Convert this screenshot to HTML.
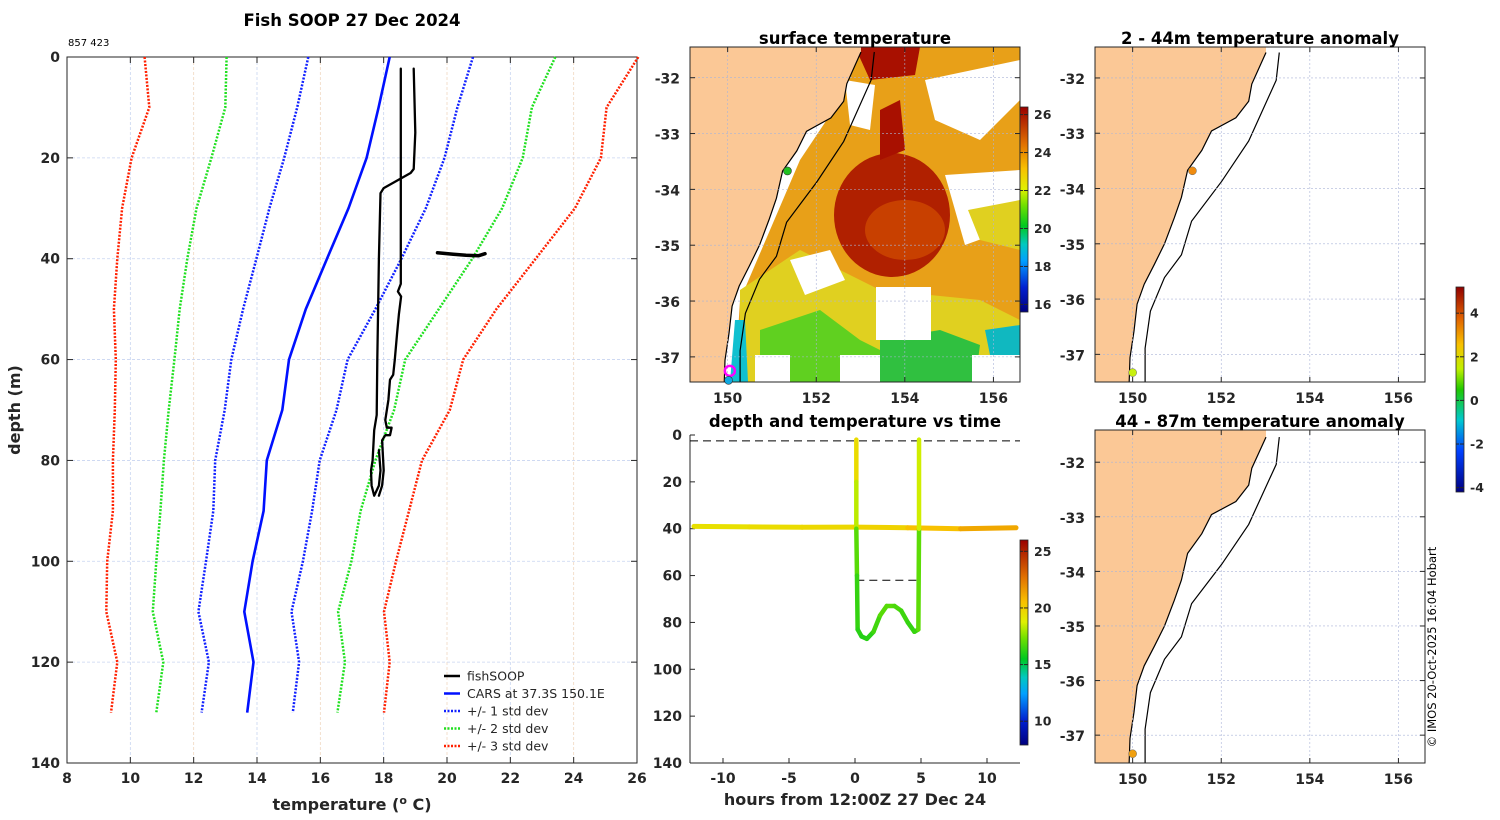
<!DOCTYPE html>
<html><head><meta charset="utf-8">
<style>
body{margin:0;background:#fff;width:1500px;height:820px;overflow:hidden}
svg{display:block;font-family:"DejaVu Sans","Liberation Sans",sans-serif}
.tk{font-size:14px;font-weight:bold;fill:#262626}
.tt{font-size:16.5px;font-weight:bold;fill:#000}
</style></head>
<body>
<svg id="fig" width="1500" height="820" viewBox="0 0 1500 820" xmlns="http://www.w3.org/2000/svg">
<defs>
<linearGradient id="tempGrad" x1="0" y1="1" x2="0" y2="0">
<stop offset="0" stop-color="#00007f"/><stop offset="0.12" stop-color="#0020d0"/><stop offset="0.25" stop-color="#00a0ff"/><stop offset="0.33" stop-color="#00c8c0"/><stop offset="0.42" stop-color="#00c820"/><stop offset="0.52" stop-color="#70e000"/><stop offset="0.6" stop-color="#e0f000"/><stop offset="0.7" stop-color="#f8c000"/><stop offset="0.82" stop-color="#e07000"/><stop offset="1" stop-color="#9a0000"/>
</linearGradient>
<linearGradient id="anomGrad" x1="0" y1="1" x2="0" y2="0">
<stop offset="0" stop-color="#00007f"/><stop offset="0.2" stop-color="#0040ff"/><stop offset="0.35" stop-color="#00c8d0"/><stop offset="0.5" stop-color="#20c800"/><stop offset="0.6" stop-color="#c0f000"/><stop offset="0.72" stop-color="#f8c000"/><stop offset="0.85" stop-color="#e06000"/><stop offset="1" stop-color="#900000"/>
</linearGradient>
<clipPath id="clipMap1"><rect x="690" y="47" width="330" height="335"/></clipPath>
<clipPath id="clipMap2"><rect x="1095" y="47" width="330" height="335"/></clipPath>
<clipPath id="clipMap3"><rect x="1095" y="430" width="330" height="333"/></clipPath>
</defs>
<g id="root"></g>
</svg>
<script>
// ---------- profile panel data ----------
const depths = [0,10,20,30,40,50,60,70,80,90,100,110,120,130];
const carsMean = [18.19,17.84,17.46,16.89,16.21,15.54,15.01,14.8,14.31,14.21,13.86,13.6,13.89,13.69];
const std1Lo = [15.62,15.27,14.86,14.39,13.98,13.56,13.19,12.98,12.68,12.62,12.39,12.15,12.48,12.25];
const std1Hi = [20.82,20.33,19.92,19.33,18.56,17.74,16.86,16.51,15.98,15.74,15.45,15.09,15.33,15.13];
const std2Lo = [13.04,13.0,12.56,12.09,11.8,11.56,11.39,11.21,11.06,10.95,10.82,10.71,11.04,10.82];
const std2Hi = [23.42,22.68,22.39,21.74,20.8,19.74,18.68,18.33,17.74,17.27,16.98,16.56,16.78,16.54];
const std3Lo = [10.45,10.6,10.04,9.74,9.59,9.48,9.54,9.51,9.45,9.45,9.27,9.24,9.59,9.39];
const std3Hi = [26.04,25.04,24.86,24.04,22.8,21.56,20.51,20.09,19.21,18.8,18.39,18.01,18.19,18.01];
const soopTempA = [18.54,18.54,18.45,18.55,18.48,18.42,18.35,18.3,18.2,18.15,18.05,18.1,18.25,18.2,18.05,17.95,18.0,17.95,17.85];
const soopDepthA = [2.3,45,46.5,47.5,51,55,60,63,64,68,72,73.5,73.5,75,75,76,82,85,87];
const soopTempB = [18.95,19.0,18.95,18.85,18.0,17.9,17.85,17.8,17.78,17.7,17.65,17.6,17.62,17.7,17.85,17.9,17.85];
const soopDepthB = [2.3,15,22.2,23,26,27,40,60,71,74,80,82,85,87,85,82,78];
const bolusTemp = [19.7,20.2,20.6,21.0,21.2];
const bolusDepth = [38.8,39.1,39.3,39.4,39.0];
const tempTicks = [8,10,12,14,16,18,20,22,24,26];
const depthTicks = [0,20,40,60,80,100,120,140];
// ---------- depth-time panel data ----------
const hoursTicks = [-10,-5,0,5,10];
const dtDepthTicks = [0,20,40,60,80,100,120,140];
const towHours = [-12.2,-8,-4,0,4,8,12.2];
const towDepth = [39,39.2,39.4,39.3,39.6,40,39.6];
const towTemp = [19.3,19.4,19.6,19.7,20.1,21.0,21.5];
const profHours = [0.1,0.1,0.1,0.15,0.2,0.5,0.9,1.4,1.9,2.4,3.0,3.5,4.0,4.5,4.8,4.85,4.85];
const profDepth = [2,20,40,60,83,86,87,84,77,73,73,75,80,84,83,40,2];
const profTemp = [19.8,19.3,17.3,16.5,16.2,16.1,16.0,16.3,16.8,17.0,16.8,16.6,16.4,16.3,16.5,17.5,19.6];
// ---------- maps ----------
const coastLon = [153.01,152.69,152.62,152.33,151.78,151.56,151.24,151.10,150.94,150.72,150.49,150.26,150.10,150.03,149.94,149.92];
const coastLat = [-31.54,-32.11,-32.42,-32.72,-32.96,-33.31,-33.67,-34.16,-34.53,-35.0,-35.37,-35.73,-36.09,-36.58,-37.06,-37.54];
const isoLon = [153.31,153.24,152.62,152.01,151.33,151.1,150.72,150.4,150.28,150.28];
const isoLat = [-31.54,-32.04,-33.14,-33.87,-34.59,-35.2,-35.61,-36.22,-36.89,-37.54];
const lonTicks = [150,152,154,156];
const latTicks = [-32,-33,-34,-35,-36,-37];
const sstTicks = [16,18,20,22,24,26];
const anomTicks = [-4,-2,0,2,4];

const NS='http://www.w3.org/2000/svg';
const root=document.getElementById('root');
function el(tag,attrs,parent,text){const e=document.createElementNS(NS,tag);for(const k in attrs)e.setAttribute(k,attrs[k]);if(text!==undefined)e.textContent=text;(parent||root).appendChild(e);return e;}
function lin(d0,d1,r0,r1){return v=>r0+(v-d0)/(d1-d0)*(r1-r0);}
function tempColor(t,lo,hi){
  const stops=[[0,[0,0,127]],[0.12,[0,32,208]],[0.25,[0,160,255]],[0.33,[0,200,192]],[0.42,[0,200,32]],[0.52,[112,224,0]],[0.6,[224,240,0]],[0.7,[248,192,0]],[0.82,[224,112,0]],[1,[154,0,0]]];
  let f=Math.max(0,Math.min(1,(t-lo)/(hi-lo)));
  for(let i=1;i<stops.length;i++){if(f<=stops[i][0]){const a=stops[i-1],b=stops[i];const u=(f-a[0])/(b[0]-a[0]);const c=a[1].map((v,j)=>Math.round(v+(b[1][j]-v)*u));return `rgb(${c})`;}}
  return 'rgb(154,0,0)';
}

// ===== Profile panel =====
const px=lin(8,26,67,637), py=lin(0,140,57,763);
const g1=el('g',{});


tempTicks.forEach((t,i)=>{const x=px(t);
  if(i>0&&i<tempTicks.length-1){const gl=el('line',{x1:x,y1:57,x2:x,y2:763,stroke:i%2?'#c8d4f0':'#f0d8c0','stroke-width':0.8,'stroke-dasharray':'3,2'},g1);}
  el('line',{x1:x,y1:763,x2:x,y2:757,stroke:'#262626'},g1);el('line',{x1:x,y1:57,x2:x,y2:63,stroke:'#262626'},g1);
  const tl=el('text',{x:x,y:783,'text-anchor':'middle',class:'tk'},g1,t);});
depthTicks.forEach((d,i)=>{const y=py(d);
  if(i>0&&i<depthTicks.length-1){const gl=el('line',{x1:67,y1:y,x2:637,y2:y,stroke:'#c8d4f0','stroke-width':0.8,'stroke-dasharray':'3,2'},g1);}
  el('line',{x1:67,y1:y,x2:73,y2:y,stroke:'#262626'},g1);el('line',{x1:637,y1:y,x2:631,y2:y,stroke:'#262626'},g1);
  const tl=el('text',{x:60,y:y+5,'text-anchor':'end',class:'tk'},g1,d);});
el('rect',{x:67,y:57,width:570,height:706,fill:'none',stroke:'#262626','stroke-width':1},g1);
function pathTD(ts,ds){return ts.map((t,i)=>(i?'L':'M')+px(t).toFixed(1)+','+py(ds[i]).toFixed(1)).join('');}
[[std3Lo,'#ff2000','std3-low'],[std3Hi,'#ff2000','std3-high'],[std2Lo,'#20e020','std2-low'],[std2Hi,'#20e020','std2-high'],[std1Lo,'#1020ff','std1-low'],[std1Hi,'#1020ff','std1-high']].forEach(s=>{
  const p=el('path',{d:pathTD(s[0],depths),fill:'none',stroke:s[1],'stroke-width':2.5,'stroke-dasharray':'2,1.5'},g1);
  });
const mp=el('path',{d:pathTD(carsMean,depths),fill:'none',stroke:'#0010ff','stroke-width':2.6},g1);

[[soopTempA,soopDepthA,2.3],[soopTempB,soopDepthB,2.3],[bolusTemp,bolusDepth,3.5]].forEach((s,i)=>{
  const p=el('path',{d:pathTD(s[0],s[1]),fill:'none',stroke:'#000','stroke-width':s[2],'stroke-linejoin':'round','stroke-linecap':'round'},g1);
  });
const lg=el('g',{},g1);
[['fishSOOP','#000',''],['CARS at 37.3S 150.1E','#0010ff',''],['+/- 1 std dev','#1020ff','2,1.5'],['+/- 2 std dev','#20e020','2,1.5'],['+/- 3 std dev','#ff2000','2,1.5']].forEach((e,i)=>{
  const y=676+i*17.5;const ge=el('g',{},lg);
  el('line',{x1:444,y1:y,x2:460,y2:y,stroke:e[1],'stroke-width':2.5,'stroke-dasharray':e[2]},ge);
  el('text',{x:467,y:y+4.5,'font-size':'12.5px',fill:'#262626'},ge,e[0]);});
let t=el('text',{x:352,y:26,'text-anchor':'middle',class:'tt'},null,'Fish SOOP 27 Dec 2024');
t=el('text',{x:68,y:46,'font-size':'10px',fill:'#000'},null,'857 423');
t=el('text',{x:352,y:810,'text-anchor':'middle','font-size':'16px','font-weight':'bold',fill:'#262626'},null,'');t.innerHTML='temperature (<tspan dy="-6" font-size="11px">o</tspan><tspan dy="6"> C)</tspan>';
t=el('text',{x:20,y:410,'text-anchor':'middle','font-size':'16px','font-weight':'bold',fill:'#262626',transform:'rotate(-90 20 410)'},null,'depth (m)');

// ===== Maps =====
function drawMap(name,x0,y0,w,h,lat0,lat1,clip){
  const lon0=149.15,lon1=156.6;
  const mx=lin(lon0,lon1,x0,x0+w), my=lin(lat0,lat1,y0,y0+h);
  const g=el('g',{});
  const inner=el('g',{'clip-path':`url(#${clip})`},g);
  return {g,inner,mx,my,lon0,lon1};
}
function coastPath(m){
  return coastLon.map((l,i)=>(i?'L':'M')+m.mx(l).toFixed(1)+','+m.my(coastLat[i]).toFixed(1)).join('');
}
function finishMap(m,x0,y0,w,h,title,titleX){
  const g=m.g,inner=m.inner;
  const top=y0-5,bot=y0+h+5;
  let d='M'+(x0-5)+','+top+' L'+m.mx(coastLon[0]).toFixed(1)+','+top+' '+coastPath(m).replace('M','L')+' L'+m.mx(coastLon[coastLon.length-1]).toFixed(1)+','+bot+' L'+(x0-5)+','+bot+'Z';
  const land=el('path',{d:d,fill:'#fbc896',stroke:'none'},inner);
  const cl=el('path',{d:coastPath(m),fill:'none',stroke:'#000','stroke-width':1.2},inner);
  const iso=el('path',{d:isoLon.map((l,i)=>(i?'L':'M')+m.mx(l).toFixed(1)+','+m.my(isoLat[i]).toFixed(1)).join(''),fill:'none',stroke:'#000','stroke-width':1.2},inner);
  lonTicks.forEach(l=>{const x=m.mx(l);el('line',{x1:x,y1:y0,x2:x,y2:y0+h,stroke:'#aab4d8','stroke-width':0.6,'stroke-dasharray':'2,2'},g);
    el('line',{x1:x,y1:y0+h,x2:x,y2:y0+h-5,stroke:'#262626'},g);el('line',{x1:x,y1:y0,x2:x,y2:y0+5,stroke:'#262626'},g);
    const tl=el('text',{x:x,y:y0+h+21,'text-anchor':'middle',class:'tk'},g,l);});
  latTicks.forEach(l=>{const y=m.my(l);el('line',{x1:x0,y1:y,x2:x0+w,y2:y,stroke:'#aab4d8','stroke-width':0.6,'stroke-dasharray':'2,2'},g);
    el('line',{x1:x0,y1:y,x2:x0+5,y2:y,stroke:'#262626'},g);el('line',{x1:x0+w,y1:y,x2:x0+w-5,y2:y,stroke:'#262626'},g);
    const tl=el('text',{x:x0-10,y:y+6,'text-anchor':'end',class:'tk','font-size':'15px'},g,l);});
  el('rect',{x:x0,y:y0,width:w,height:h,fill:'none',stroke:'#262626'},g);
  const tt=el('text',{x:titleX,y:y0-3,'text-anchor':'middle',class:'tt'},g,title);
}
const m1=drawMap('surface-temperature-map',690,47,330,335,-31.45,-37.45,'clipMap1');
(function(){const I=m1.inner;const blobs=[
 ['#ffffff','rect',690,47,330,335],
 ['#e8a018','path','M860,47 L1020,47 L1020,330 L960,320 L900,300 L850,300 L800,330 L760,382 L735,382 L740,300 L770,230 L800,160 L840,100Z'],
 ['#e0d020','path','M740,290 L800,250 L880,290 L980,300 L1020,320 L1020,382 L740,382Z'],
 ['#60d020','path','M760,330 L820,310 L860,340 L900,360 L1020,370 L1020,382 L760,382Z'],
 ['#30c040','path','M880,340 L940,330 L980,345 L975,382 L880,382Z'],
 ['#10c0d0','path','M735,320 L745,320 L748,382 L730,382Z'],
 ['#10b8c0','path','M985,330 L1020,325 L1020,360 L990,355Z'],
 ['#b02000','ellipse',892,215,58,62],
 ['#c84000','ellipse',905,230,40,30],
 ['#a81000','path','M855,47 L920,47 L915,75 L870,80Z'],
 ['#a81000','path','M880,110 L900,100 L905,150 L880,160Z'],
 ['#ffffff','rect',876,287,55,53],
 ['#ffffff','path','M925,80 L1020,60 L1020,100 L980,140 L935,120Z'],
 ['#ffffff','path','M945,175 L1020,170 L1020,225 L965,245Z'],
 ['#ffffff','path','M845,80 L875,85 L870,130 L850,125Z'],
 ['#ffffff','path','M790,260 L830,250 L845,280 L805,295Z'],
 ['#ffffff','rect',972,355,48,27],
 ['#ffffff','rect',840,355,40,27],
 ['#ffffff','rect',755,355,35,27],
 ['#e0d020','path','M968,210 L1020,200 L1020,250 L980,240Z']
 ];
 blobs.forEach(b=>{let e;if(b[1]==='rect')e=el('rect',{x:b[2],y:b[3],width:b[4],height:b[5],fill:b[0]},I);else if(b[1]==='ellipse')e=el('ellipse',{cx:b[2],cy:b[3],rx:b[4],ry:b[5],fill:b[0]},I);else e=el('path',{d:b[2],fill:b[0]},I);
  });
})();
finishMap(m1,690,47,330,335,'surface temperature',855);
[[151.35,-33.67,'#20c020',4,'none'],[150.05,-37.25,'none',5,'#ff00ff'],[150.02,-37.42,'#10a8e0',4,'none']].forEach(d=>{const c=el('circle',{cx:m1.mx(d[0]),cy:m1.my(d[1]),r:d[3],fill:d[2],stroke:d[4]==='none'?'#333':d[4],'stroke-width':d[4]==='none'?0.6:2.5},m1.g);});
const m2=drawMap('anomaly-map-2-44m',1095,47,330,335,-31.44,-37.5,'clipMap2');
finishMap(m2,1095,47,330,335,'2 - 44m temperature anomaly',1260);
[[151.35,-33.68,'#f08c10'],[150.0,-37.33,'#c8f010']].forEach(d=>{const c=el('circle',{cx:m2.mx(d[0]),cy:m2.my(d[1]),r:4,fill:d[2],stroke:'#666','stroke-width':0.5},m2.g);});
const m3=drawMap('anomaly-map-44-87m',1095,430,330,333,-31.41,-37.51,'clipMap3');
finishMap(m3,1095,430,330,333,'44 - 87m temperature anomaly',1260);
{const c=el('circle',{cx:m3.mx(150.0),cy:m3.my(-37.34),r:4,fill:'#f0a010',stroke:'#666','stroke-width':0.5},m3.g);}

function colorbar(name,x,y0,y1,v0,v1,ticks,grad){
  const g=el('g',{});
  el('rect',{x:x,y:y0,width:8,height:y1-y0,fill:`url(#${grad})`,stroke:'#262626','stroke-width':0.8},g);
  const cy=lin(v0,v1,y1,y0);
  ticks.forEach(t=>{const y=cy(t);el('line',{x1:x+8,y1:y,x2:x+4,y2:y,stroke:'#262626'},g);el('line',{x1:x,y1:y,x2:x+3,y2:y,stroke:'#262626'},g);
    const tl=el('text',{x:x+14,y:y+4.5,'font-size':'12.5px','font-weight':'bold',fill:'#262626'},g,t);});
}
colorbar('sst-colorbar',1020,107,312,15.6,26.4,sstTicks,'tempGrad');
colorbar('depth-time-colorbar',1020,540,745,7.9,26.0,[10,15,20,25],'tempGrad');
colorbar('anomaly-colorbar',1456,287,492,-4.2,5.2,anomTicks,'anomGrad');

const hx=lin(-12.5,12.5,690,1020), hy=lin(0,140,435,763);
const g3=el('g',{});
el('line',{x1:690,y1:435,x2:690,y2:763,stroke:'#262626'},g3);
el('line',{x1:690,y1:763,x2:1020,y2:763,stroke:'#262626'},g3);
hoursTicks.forEach(h=>{const x=hx(h);el('line',{x1:x,y1:763,x2:x,y2:758,stroke:'#262626'},g3);
  const tl=el('text',{x:x,y:783,'text-anchor':'middle',class:'tk'},g3,h);});
dtDepthTicks.forEach(d=>{const y=hy(d);el('line',{x1:690,y1:y,x2:695,y2:y,stroke:'#262626'},g3);
  const tl=el('text',{x:682,y:y+5,'text-anchor':'end',class:'tk'},g3,d);});
el('line',{x1:690,y1:hy(2.5),x2:1020,y2:hy(2.5),stroke:'#000','stroke-dasharray':'8,5'},g3);
el('line',{x1:hx(0.1),y1:hy(62),x2:hx(4.85),y2:hy(62),stroke:'#000','stroke-dasharray':'8,5'},g3);
function segs(hs,ds,ts,w,nm){for(let i=1;i<hs.length;i++){const s=el('line',{x1:hx(hs[i-1]),y1:hy(ds[i-1]),x2:hx(hs[i]),y2:hy(ds[i]),stroke:tempColor((ts[i-1]+ts[i])/2,7.9,26),'stroke-width':w,'stroke-linecap':'round'},g3);}}
segs(towHours,towDepth,towTemp,5,'tow-track-segment');
segs(profHours,profDepth,profTemp,4.5,'profile-track-segment');
t=el('text',{x:855,y:427,'text-anchor':'middle',class:'tt'},g3,'depth and temperature vs time');
t=el('text',{x:855,y:805,'text-anchor':'middle','font-size':'16px','font-weight':'bold',fill:'#262626'},g3,'hours from 12:00Z 27 Dec 24');
t=el('text',{x:1436,y:647,'text-anchor':'middle','font-size':'11.5px',fill:'#000',transform:'rotate(-90 1436 647)'},null,'© IMOS 20-Oct-2025 16:04 Hobart');
</script>
</body></html>
